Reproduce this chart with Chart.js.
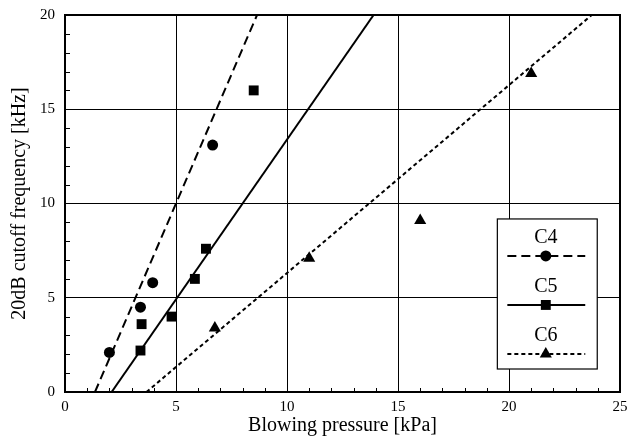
<!DOCTYPE html>
<html>
<head>
  <title>20dB cutoff frequency vs blowing pressure</title>
  <script src="https://cdn.jsdelivr.net/npm/chart.js"></script>
  <style>
    html, body { margin: 0; padding: 0; background: #fff; }
    #wrap { width: 627px; height: 436px; }
  </style>
</head>
<body>
  <div id="wrap"><canvas id="chart" width="627" height="436"></canvas></div>

  <script>
    // measured points
    const c4X = [2.0, 3.4, 3.95, 6.65];
    const c4Y = [2.1, 4.5, 5.8, 13.1];
    const c5X = [3.4, 3.45, 4.8, 5.85, 6.35, 8.5];
    const c5Y = [2.2, 3.6, 4.0, 6.0, 7.6, 16.0];
    const c6X = [6.75, 11.0, 16.0, 21.0];
    const c6Y = [3.4, 7.1, 9.1, 16.9];

    // fitted lines (end points on the plot frame)
    const c4FitX = [1.35, 8.65];
    const c4FitY = [0, 20];
    const c5FitX = [2.1, 13.9];
    const c5FitY = [0, 20];
    const c6FitX = [3.67, 23.73];
    const c6FitY = [0, 20];

    const seriesNames = ["C4", "C5", "C6"];
    const xTitle = "Blowing pressure [kPa]";
    const yTitle = "20dB cutoff frequency [kHz]";

    const FONT = "'Liberation Serif', 'DejaVu Serif', serif";

    const pts = (xs, ys) => xs.map((x, i) => ({ x: x, y: ys[i] }));

    const styles = [
      { dash: [9, 5], point: "circle", radius: 5.5 },
      { dash: [], point: "rect", radius: 7 },
      { dash: [4, 3], point: "triangle", radius: 7 }
    ];

    function fitSet(xs, ys, s) {
      return {
        type: "line", data: pts(xs, ys), borderColor: "#000", borderWidth: 2,
        borderDash: s.dash, pointRadius: 0, fill: false, tension: 0
      };
    }
    function pointSet(xs, ys, s) {
      return {
        type: "scatter", data: pts(xs, ys), showLine: false,
        pointStyle: s.point, pointRadius: s.radius, pointHoverRadius: s.radius,
        backgroundColor: "#000", borderColor: "#000", borderWidth: 0
      };
    }

    // minor ticks + frame
    const framePlugin = {
      id: "frame",
      beforeDatasetsDraw(chart) {
        const { ctx, chartArea: a, scales: { x, y } } = chart;
        ctx.save();
        ctx.strokeStyle = "#000";
        ctx.lineWidth = 1;
        ctx.beginPath();
        for (let v = 1; v < 25; v++) {
          if (v % 5 === 0) continue;
          const px = Math.round(x.getPixelForValue(v)) + 0.5;
          ctx.moveTo(px, a.bottom);
          ctx.lineTo(px, a.bottom - 4);
        }
        for (let v = 1; v < 20; v++) {
          if (v % 5 === 0) continue;
          const py = Math.round(y.getPixelForValue(v)) + 0.5;
          ctx.moveTo(a.left, py);
          ctx.lineTo(a.left + 5, py);
        }
        ctx.stroke();
        ctx.lineWidth = 2;
        ctx.strokeRect(a.left, a.top, a.right - a.left, a.bottom - a.top);
        ctx.restore();
      }
    };

    // legend box with label above each line sample
    const legendPlugin = {
      id: "boxLegend",
      afterDraw(chart) {
        const { ctx, chartArea: a } = chart;
        const w = a.right - a.left, h = a.bottom - a.top;
        const bx = a.left + w * 0.779, by = a.top + h * 0.541;
        const bw = w * 0.18, bh = h * 0.398;
        ctx.save();
        ctx.fillStyle = "#fff";
        ctx.fillRect(bx, by, bw, bh);
        ctx.strokeStyle = "#000";
        ctx.lineWidth = 1.2;
        ctx.strokeRect(bx, by, bw, bh);
        const cx = bx + bw * 0.485;
        ctx.font = "20px " + FONT;
        ctx.textAlign = "center";
        ctx.textBaseline = "alphabetic";
        ctx.fillStyle = "#000";
        seriesNames.forEach((name, i) => {
          const top = by + i * 49;
          ctx.fillText(name, cx, top + 24);
          const ly = top + 37;
          ctx.beginPath();
          ctx.setLineDash(styles[i].dash);
          ctx.lineWidth = 2;
          ctx.moveTo(bx + 10, ly);
          ctx.lineTo(bx + bw - 12, ly);
          ctx.stroke();
          ctx.setLineDash([]);
          const r = styles[i].radius;
          ctx.beginPath();
          if (styles[i].point === "circle") {
            ctx.arc(cx, ly, r, 0, Math.PI * 2);
          } else if (styles[i].point === "rect") {
            const s = r * Math.SQRT1_2;
            ctx.rect(cx - s, ly - s, 2 * s, 2 * s);
          } else {
            ctx.moveTo(cx, ly - r);
            ctx.lineTo(cx + r * 0.866, ly + r * 0.5);
            ctx.lineTo(cx - r * 0.866, ly + r * 0.5);
            ctx.closePath();
          }
          ctx.fill();
        });
        ctx.restore();
      }
    };

    const chart = new Chart(document.getElementById("chart").getContext("2d"), {
      data: {
        datasets: [
          fitSet(c4FitX, c4FitY, styles[0]),
          fitSet(c5FitX, c5FitY, styles[1]),
          fitSet(c6FitX, c6FitY, styles[2]),
          pointSet(c4X, c4Y, styles[0]),
          pointSet(c5X, c5Y, styles[1]),
          pointSet(c6X, c6Y, styles[2])
        ]
      },
      options: {
        animation: false,
        responsive: false,
        layout: { padding: { top: 15, right: 6, left: 0, bottom: 0 } },
        plugins: { legend: { display: false }, tooltip: { enabled: false } },
        scales: {
          x: {
            type: "linear", min: 0, max: 25,
            ticks: { stepSize: 5, color: "#000", padding: 6, font: { family: FONT, size: 15 } },
            grid: { color: "#000", lineWidth: 1, drawTicks: false },
            border: { color: "#000", width: 2 },
            title: { display: true, text: xTitle, color: "#000", padding: 0,
                     font: { family: FONT, size: 20, lineHeight: 1 } },
            afterFit(scale) { scale.height = 44; scale.paddingRight = 0; scale.paddingLeft = 0; }
          },
          y: {
            type: "linear", min: 0, max: 20,
            ticks: { stepSize: 5, color: "#000", padding: 10, font: { family: FONT, size: 15 } },
            grid: { color: "#000", lineWidth: 1, drawTicks: false },
            border: { color: "#000", width: 2 },
            title: { display: true, text: yTitle, color: "#000", padding: { top: 10, bottom: 0 },
                     font: { family: FONT, size: 20, lineHeight: 1 } },
            afterFit(scale) { scale.width = 65; scale.paddingTop = 0; scale.paddingBottom = 0; }
          }
        }
      },
      plugins: [framePlugin, legendPlugin]
    });
  </script>
</body>
</html>
